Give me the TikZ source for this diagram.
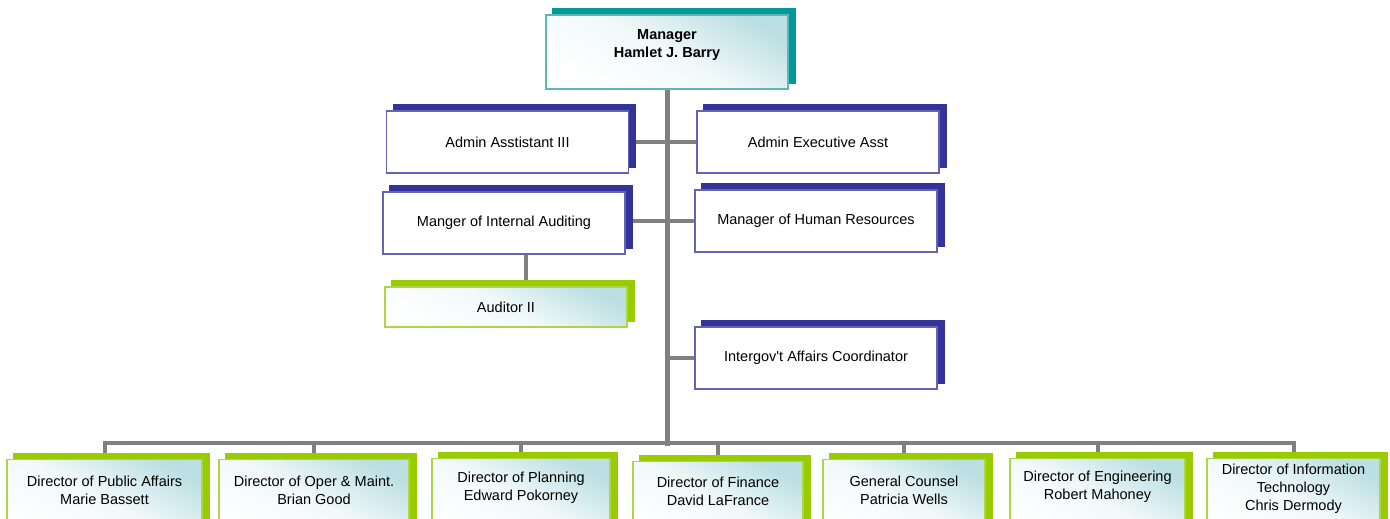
\documentclass[tikz,border=0pt]{standalone}
\usepackage{fontspec}
\setmainfont{Liberation Sans}
\usetikzlibrary{backgrounds,calc}
\definecolor{tealsh}{HTML}{009999}
\definecolor{tealbd}{HTML}{5CB8B8}
\definecolor{bluesh}{HTML}{333399}
\definecolor{bluebd}{HTML}{6464B4}
\definecolor{greensh}{HTML}{99CC00}
\definecolor{greenbd}{HTML}{ADD646}
\definecolor{gradblue}{HTML}{BCDFE3}
\definecolor{linegray}{HTML}{808080}
\newcommand\boxshadow[2]{\fill[#2] ($(#1.south west)+(7,-6)$) rectangle ($(#1.north east)+(7,-6)$);}
\tikzset{
  x=1pt, y=-1pt,
  txt/.style={inner sep=0pt, align=center, font=\fontsize{14.5}{18}\selectfont},
  box/.style={rectangle, inner sep=0pt, line width=1.3pt, align=center, font=\fontsize{14.5}{18}\selectfont},
  gradbox/.style={box, top color=gradblue, bottom color=white, middle color=gradblue!20!white, shading angle=-28},
  bluebox/.style={box, draw=bluebd, fill=white, minimum width=242pt, minimum height=62pt},
  greenbox/.style={gradbox, draw=greenbd},
  tealbox/.style={gradbox, draw=tealbd},
  botbox/.style={greenbox, anchor=north, minimum height=80pt},
  conn/.style={draw=linegray, line width=4pt},
  trunk/.style={draw=linegray, line width=5pt, line cap=rect},
}
\begin{document}
\begin{tikzpicture}
\useasboundingbox (0,0) rectangle (1390,519);
% top
\node[tealbox, minimum width=242pt, minimum height=74pt] (mgr) at (667,52) {};
\node[txt, font=\bfseries\fontsize{14.5}{18.5}\selectfont] (mgrt) at (667,45) {Manager\\Hamlet J. Barry};
% staff
\node[bluebox] (aa3) at (507.5,142) {Admin Asstistant III};
\node[bluebox] (aea) at (818,142) {Admin Executive Asst};
\node[bluebox] (mia) at (504,223) {Manger of Internal Auditing};
\node[bluebox] (mhr) at (816,221) {Manager of Human Resources};
\node[greenbox, minimum width=242pt, minimum height=40pt] (aud) at (506,307) {Auditor II};
\node[bluebox] (igc) at (816,358) {Intergov\textquotesingle t Affairs Coordinator};
% directors
\node[botbox, minimum width=195pt] (d1) at (104.5,459) {};
\node[botbox, minimum width=190pt] (d2) at (314,459) {};
\node[botbox, minimum width=178pt] (d3) at (521,458) {};
\node[botbox, minimum width=170pt] (d4) at (718,461) {};
\node[botbox, minimum width=162pt] (d5) at (904,459) {};
\node[botbox, minimum width=175pt] (d6) at (1097.5,458) {};
\node[botbox, minimum width=173pt] (d7) at (1293.5,458) {};
\node[txt] (t1) at (104.5,490) {Director of Public Affairs\\Marie Bassett};
\node[txt] (t2) at (314,490) {Director of Oper \& Maint.\\Brian Good};
\node[txt] (t3) at (521,488) {Director of Planning\\Edward Pokorney};
\node[txt] (t4) at (718,491) {Director of Finance\\David LaFrance};
\node[txt] (t5) at (904,490) {General Counsel\\Patricia Wells};
\node[txt] (t6) at (1097.5,487) {Director of Engineering\\Robert Mahoney};
\node[txt] (t7) at (1293.5,489) {Director of Information\\Technology\\Chris Dermody};
\coordinate (busC) at (667,443);
\begin{scope}[on background layer]
  % connectors
  \draw[trunk] (mgr.south) -- (busC);
  \draw[conn] (aa3.east) -- (aea.west);
  \draw[conn] (mia.east |- mhr.west) -- (mhr.west);
  \draw[conn] (igc.west) -- (igc.west -| mgr.south);
  \draw[conn] ([xshift=22pt]mia.south) -- ([xshift=22pt]mia.south |- aud.north);
  \draw[conn, line join=miter] (d1.north) -- (d1.north |- busC) -- (d7.north |- busC) -- (d7.north);
  \foreach \d in {d2,d3,d4,d5,d6} {\draw[conn] (\d.north) -- (\d.north |- busC);}
  % shadows
  \boxshadow{mgr}{tealsh}
  \foreach \b in {aa3,aea,mia,mhr,igc} {\boxshadow{\b}{bluesh}}
  \foreach \b in {aud,d1,d2,d3,d4,d5,d6,d7} {\boxshadow{\b}{greensh}}
\end{scope}
\end{tikzpicture}
\end{document}
